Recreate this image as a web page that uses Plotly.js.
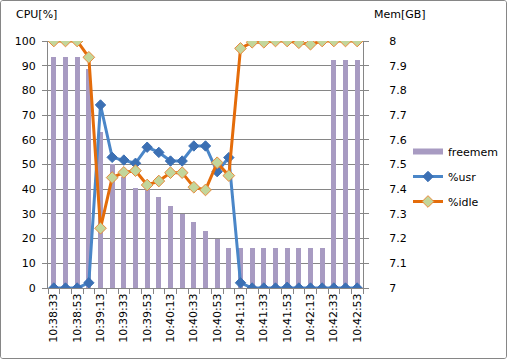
<!DOCTYPE html>
<html>
<head>
<meta charset="utf-8">
<script src="https://cdn.plot.ly/plotly-3.0.1.min.js"></script>
<style>
  html, body { margin: 0; padding: 0; background: #fff; }
  #wrap { width: 505px; height: 357px; border: 1px solid #868686; border-radius: 3px; overflow: hidden; }
  #chart { width: 560px; height: 357px; }
</style>
</head>
<body>
<div id="wrap"><div id="chart"></div></div>
<script>
// ---- data ----
const times = ["10:38:33","10:38:43","10:38:53","10:39:03","10:39:13","10:39:23","10:39:33","10:39:43","10:39:53",
  "10:40:03","10:40:13","10:40:23","10:40:33","10:40:43","10:40:53","10:41:03","10:41:13","10:41:23",
  "10:41:33","10:41:43","10:41:53","10:42:03","10:42:13","10:42:23","10:42:33","10:42:43","10:42:53"];
const freemem = [7.934,7.934,7.934,7.887,7.632,7.502,7.449,7.405,7.405,
  7.368,7.332,7.298,7.268,7.232,7.198,7.162,7.162,7.162,
  7.162,7.162,7.162,7.162,7.162,7.162,7.923,7.923,7.923];
const usr = [0,0,0,2.1,74.1,52.9,51.8,50.5,57.0,
  54.9,51.4,51.4,57.5,57.5,47.1,52.8,2.1,0,
  0,0,0.3,0,0,0,0,0,0];
const idle = [100,100,100,93.4,24.2,44.7,46.8,47.5,41.7,
  43.3,46.7,46.7,40.8,39.7,50.7,45.5,97.0,99.5,
  99.5,100,100,99.3,98.7,100,100,100,100];

const xIdx = times.map((t, i) => i);
const tickIdx = xIdx.filter(i => i % 2 === 0);
const tickText = tickIdx.map(i => times[i]);

const FONT = "DejaVu Sans";
const GRID = "#868686";
const C_BAR = "#A89BC2";
const C_USR = "#4A86C8";
const C_USR_M = "#3C70B4";
const C_IDLE = "#E46C0A";
const C_IDLE_M = "#C3D69B";

const traces = [
  { // legend entry for bars
    x: [null], y: [null], type: "scatter", mode: "lines", name: "freemem", legendgroup: "a",
    line: { color: C_BAR, width: 6 }, yaxis: "y", hoverinfo: "skip"
  },
  {
    x: xIdx, y: freemem, type: "bar", name: "freemem", showlegend: false, legendgroup: "a",
    marker: { color: C_BAR }, width: 0.45, yaxis: "y"
  },
  {
    x: xIdx, y: usr, type: "scatter", mode: "lines+markers", name: "%usr", yaxis: "y2", legendgroup: "b",
    line: { color: C_USR, width: 3 },
    marker: { symbol: "diamond", size: 8, color: C_USR_M, line: { color: C_USR_M, width: 1 } }
  },
  {
    x: xIdx, y: idle, type: "scatter", mode: "lines+markers", name: "%idle", yaxis: "y2", legendgroup: "c",
    line: { color: C_IDLE, width: 3 },
    marker: { symbol: "diamond", size: 9, color: C_IDLE_M, line: { color: "#E8893A", width: 1 } }
  }
];

const FW = 560;
const L = 47, T = 40, W = 315, H = 247;
function px(x) { return (x - 1 - L) / W; }
function py(y) { return (T + H - (y - 1)) / H; }

const layout = {
  width: FW, height: 357,
  margin: { l: L, r: FW - L - W, t: T, b: 357 - T - H, pad: 0 },
  paper_bgcolor: "#fff", plot_bgcolor: "#fff",
  font: { family: FONT, size: 11, color: "#000" },
  showlegend: true,
  legend: {
    x: px(408), y: py(137), xanchor: "left", yanchor: "top",
    bgcolor: "rgba(0,0,0,0)", itemwidth: 30, traceorder: "grouped", tracegroupgap: 6,
    font: { family: FONT, size: 11, color: "#000" }
  },
  bargap: 0,
  xaxis: {
    range: [-0.5, 26.5], tickmode: "array", tickvals: tickIdx, ticktext: tickText,
    tickangle: -90, ticks: "", showgrid: false, zeroline: false,
    showline: true, linecolor: GRID, linewidth: 1,
    minor: { tickmode: "linear", tick0: 0.5, dtick: 1, ticks: "outside", ticklen: 5, tickcolor: GRID, showgrid: false },
    tickfont: { family: FONT, size: 11, color: "#000" }
  },
  yaxis: {
    side: "right", range: [7, 8], dtick: 0.1, tick0: 7,
    showgrid: true, gridcolor: GRID, gridwidth: 1, zeroline: false,
    showline: true, linecolor: GRID, ticks: "outside", ticklen: 5, tickcolor: GRID,
    ticklabelstandoff: 18,
    tickfont: { family: FONT, size: 11, color: "#000" }
  },
  yaxis2: {
    overlaying: "y", side: "left", range: [0, 100], dtick: 10, tick0: 0,
    showgrid: false, zeroline: false,
    showline: true, linecolor: GRID, ticks: "outside", ticklen: 5, tickcolor: GRID,
    ticklabelstandoff: 4,
    tickfont: { family: FONT, size: 11, color: "#000" }
  },
  annotations: [
    { text: "CPU[%]", xref: "paper", yref: "paper", x: px(14), y: py(15), xanchor: "left", yanchor: "middle", showarrow: false, font: { family: FONT, size: 11, color: "#000" } },
    { text: "Mem[GB]", xref: "paper", yref: "paper", x: px(372), y: py(15), xanchor: "left", yanchor: "middle", showarrow: false, font: { family: FONT, size: 11, color: "#000" } }
  ]
};

Plotly.newPlot("chart", traces, layout, { displayModeBar: false, staticPlot: true });
</script>
</body>
</html>
